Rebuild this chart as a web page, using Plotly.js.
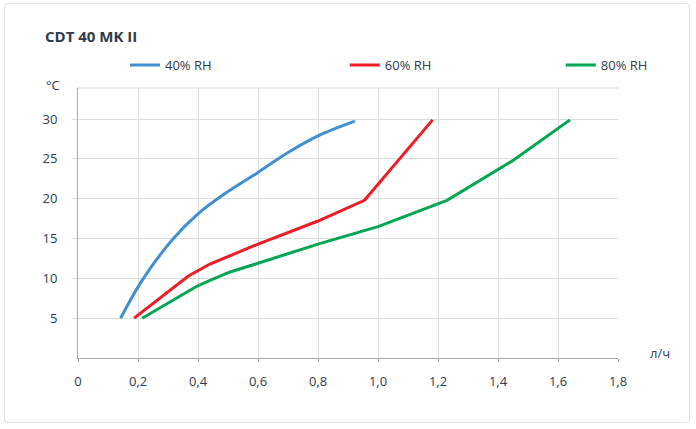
<!DOCTYPE html>
<html>
<head>
<meta charset="utf-8">
<script src="https://cdn.plot.ly/plotly-3.0.1.min.js"></script>
<style>
  html, body { margin: 0; padding: 0; background: #fff; }
  #frame {
    position: absolute; left: 4px; top: 3px; width: 686px; height: 420px;
    border: 1px solid #dcdfe3; border-radius: 4px; box-sizing: border-box;
  }
  #chart { position: absolute; left: 0; top: 0; width: 696px; height: 429px; }
</style>
</head>
<body>
<div id="frame"></div>
<div id="chart"></div>
<script>
  // flow (л/ч) vs temperature (°C)
  var rh40X = [0.142, 0.218, 0.318, 0.40, 0.496, 0.60, 0.70, 0.80, 0.923];
  var rh40Y = [5, 10, 15, 18.1, 20.8, 23.3, 25.8, 27.9, 29.75];

  var rh60X = [0.187, 0.368, 0.44, 0.60, 0.80, 0.955, 1.182];
  var rh60Y = [5, 10.3, 11.8, 14.3, 17.2, 19.8, 29.9];

  var rh80X = [0.214, 0.396, 0.44, 0.507, 0.60, 0.80, 1.0, 1.17, 1.23, 1.45, 1.64];
  var rh80Y = [5, 9, 9.75, 10.8, 11.9, 14.3, 16.5, 18.9, 19.8, 24.8, 29.9];

  var seriesNames = ['40% RH', '60% RH', '80% RH'];
  var xTicks = [0, 0.2, 0.4, 0.6, 0.8, 1.0, 1.2, 1.4, 1.6, 1.8];
  var xTickText = ['0', '0,2', '0,4', '0,6', '0,8', '1,0', '1,2', '1,4', '1,6', '1,8'];
  var yTicks = [5, 10, 15, 20, 25, 30];

  var textColor = '#2f3a4b';

  function line(x, y, name, color, legendId, shape) {
    return {
      x: x, y: y, name: name, type: 'scatter', mode: 'lines',
      legend: legendId,
      line: { color: color, width: 3, shape: shape, smoothing: 1 },
      hoverinfo: 'x+y+name'
    };
  }

  function legendAt(x) {
    return {
      orientation: 'h',
      x: x, xanchor: 'left',
      y: 1.085, yanchor: 'middle',
      font: { size: 13, color: textColor },
      bgcolor: 'rgba(0,0,0,0)'
    };
  }

  var data = [
    line(rh40X, rh40Y, seriesNames[0], '#3f8fd2', 'legend', 'spline'),
    line(rh60X, rh60Y, seriesNames[1], '#ee1c25', 'legend2', 'linear'),
    line(rh80X, rh80Y, seriesNames[2], '#00a651', 'legend3', 'linear')
  ];

  var layout = {
    width: 696,
    height: 429,
    paper_bgcolor: 'rgba(0,0,0,0)',
    plot_bgcolor: 'rgba(0,0,0,0)',
    margin: { t: 88, b: 71, l: 78, r: 78 },
    font: { family: 'Open Sans, sans-serif', size: 13, color: textColor },
    title: {
      text: '<b>CDT 40 MK II</b>',
      font: { size: 15, color: textColor },
      x: 45 / 696, xref: 'container', xanchor: 'left',
      y: 1 - 37 / 429, yref: 'container', yanchor: 'middle'
    },
    showlegend: true,
    legend: legendAt(0.087),
    legend2: legendAt(0.494),
    legend3: legendAt(0.894),
    xaxis: {
      range: [0, 1.8],
      tickvals: xTicks,
      ticktext: xTickText,
      showgrid: true,
      gridcolor: '#dcdcdc',
      zeroline: false,
      showline: true,
      linecolor: '#aaaaaa',
      linewidth: 1,
      ticks: 'outside',
      ticklen: 3,
      tickcolor: '#aaaaaa',
      ticklabelstandoff: 8,
      fixedrange: true
    },
    yaxis: {
      range: [0, 33.9],
      tickvals: yTicks,
      showgrid: true,
      gridcolor: '#dcdcdc',
      zeroline: false,
      showline: true,
      linecolor: '#aaaaaa',
      linewidth: 1,
      ticks: 'outside',
      ticklen: 5,
      tickcolor: '#dcdcdc',
      ticklabelstandoff: 12,
      fixedrange: true
    },
    shapes: [{
      type: 'line', xref: 'paper', yref: 'paper',
      x0: 0, x1: 1, y0: 1, y1: 1,
      line: { color: '#dcdcdc', width: 1 }
    }],
    annotations: [
      {
        text: '°C', xref: 'paper', yref: 'paper',
        x: -0.03, y: 1.011, xanchor: 'right', yanchor: 'middle',
        showarrow: false, font: { size: 13, color: textColor }
      },
      {
        text: 'л/ч', xref: 'paper', yref: 'paper',
        x: 1.055, y: 0.0185, xanchor: 'left', yanchor: 'middle',
        showarrow: false, font: { size: 13, color: textColor }
      }
    ]
  };

  Plotly.newPlot('chart', data, layout, { displayModeBar: false, responsive: false });
</script>
</body>
</html>
